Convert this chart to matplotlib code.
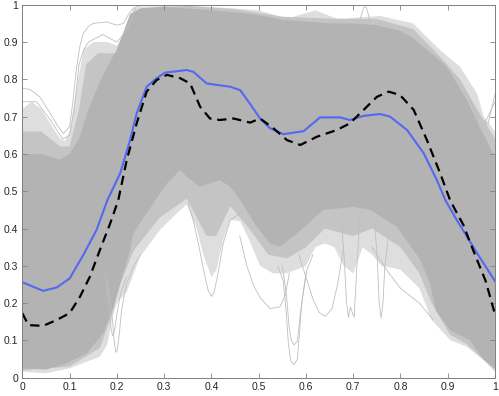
import matplotlib
matplotlib.use("Agg")
import matplotlib.pyplot as plt

# ---- data ----
# dense core band of curves
core_x  = [0, 0.04, 0.08, 0.1, 0.12, 0.14, 0.17, 0.2, 0.215, 0.228, 0.25, 0.3, 0.35, 0.4, 0.45, 0.5,
           0.55, 0.6, 0.65, 0.7, 0.75, 0.8, 0.827, 0.86, 0.898, 0.94, 0.975, 1.0]
core_hi = [0.6, 0.6, 0.585, 0.6, 0.64, 0.72, 0.81, 0.88, 0.93, 0.975, 0.99, 0.995, 0.99, 0.985, 0.98, 0.972,
           0.96, 0.955, 0.95, 0.95, 0.945, 0.93, 0.91, 0.875, 0.834, 0.745, 0.655, 0.59]
corelo_x = [0, 0.05, 0.087, 0.136, 0.171, 0.193, 0.207, 0.228, 0.235, 0.277, 0.306, 0.334, 0.348, 0.376,
            0.397, 0.418, 0.44, 0.461, 0.496, 0.524, 0.545, 0.581, 0.637, 0.701, 0.736, 0.792, 0.842,
            0.863, 0.875, 0.905, 0.947, 0.975, 1.0]
core_lo = [0.025, 0.022, 0.035, 0.065, 0.119, 0.19, 0.253, 0.342, 0.387, 0.468, 0.521, 0.557, 0.539, 0.512,
           0.521, 0.53, 0.512, 0.476, 0.405, 0.36, 0.351, 0.387, 0.45, 0.458, 0.45, 0.405, 0.316,
           0.25, 0.18, 0.128, 0.1, 0.05, 0.025]

# fairly dense fringe of curves
midhi_x = [0, 0.04, 0.08, 0.1, 0.12, 0.135, 0.16, 0.2, 0.22, 0.235, 0.25, 0.35, 0.45, 0.55, 0.65, 0.75,
           0.827, 0.884, 0.926, 0.962, 1.0]
mid_hi  = [0.66, 0.66, 0.62, 0.62, 0.72, 0.84, 0.87, 0.87, 0.9, 0.975, 0.99, 0.997, 0.988, 0.968, 0.963,
           0.962, 0.935, 0.86, 0.8, 0.72, 0.64]
midlo_x = [0, 0.1, 0.164, 0.19, 0.207, 0.235, 0.291, 0.348, 0.369, 0.39, 0.41, 0.44, 0.48, 0.52, 0.56,
           0.6, 0.64, 0.7, 0.74, 0.8, 0.84, 0.866, 0.905, 0.94, 1.0]
mid_lo  = [0.02, 0.03, 0.08, 0.17, 0.25, 0.34, 0.43, 0.48, 0.43, 0.38, 0.38, 0.46, 0.4, 0.33, 0.32,
           0.35, 0.4, 0.38, 0.4, 0.35, 0.28, 0.2, 0.115, 0.09, 0.02]

# sparse outer spread of curves
sphi_x = [0, 0.02, 0.04, 0.06, 0.08, 0.09, 0.1, 0.115, 0.13, 0.15, 0.18, 0.2, 0.215, 0.235, 0.25, 0.35,
          0.45, 0.5, 0.56, 0.62, 0.67, 0.7, 0.757, 0.827, 0.884, 0.926, 0.962, 0.976, 1.0]
sp_hi  = [0.72, 0.74, 0.72, 0.68, 0.64, 0.635, 0.66, 0.78, 0.88, 0.9, 0.9, 0.89, 0.92, 0.99, 0.995, 0.998,
          0.99, 0.985, 0.963, 0.985, 0.96, 0.965, 0.97, 0.95, 0.878, 0.834, 0.762, 0.70, 0.66]
splo_x = [0, 0.05, 0.1, 0.136, 0.164, 0.18, 0.19, 0.2, 0.221, 0.249, 0.291, 0.327, 0.348, 0.369, 0.383,
          0.4, 0.411, 0.425, 0.44, 0.461, 0.48, 0.503, 0.53, 0.56, 0.6, 0.62, 0.64, 0.66, 0.68, 0.7,
          0.72, 0.74, 0.76, 0.8, 0.84, 0.866, 0.905, 0.94, 0.976, 1.0]
sp_lo  = [0.016, 0.012, 0.025, 0.043, 0.056, 0.09, 0.16, 0.2, 0.23, 0.324, 0.396, 0.441, 0.465, 0.4, 0.33,
          0.27, 0.29, 0.37, 0.423, 0.42, 0.37, 0.3, 0.28, 0.28, 0.3, 0.35, 0.36, 0.35, 0.3, 0.28,
          0.35, 0.33, 0.3, 0.29, 0.24, 0.155, 0.101, 0.083, 0.047, 0.016]

# individual outlying curves
outliers = [
    ([0, 0.016, 0.037, 0.059, 0.076, 0.087, 0.1, 0.107, 0.115, 0.122, 0.129, 0.14, 0.15, 0.179, 0.2, 0.214,
      0.225, 0.235, 0.25],
     [0.776, 0.773, 0.753, 0.709, 0.673, 0.655, 0.673, 0.74, 0.834, 0.89, 0.923, 0.942, 0.95, 0.954, 0.945,
      0.95, 0.975, 0.991, 0.998]),
    ([0, 0.03, 0.06, 0.085, 0.1, 0.11, 0.12, 0.13, 0.14, 0.17, 0.2, 0.22, 0.24],
     [0.74, 0.74, 0.69, 0.64, 0.65, 0.72, 0.84, 0.88, 0.9, 0.92, 0.9, 0.93, 0.99]),
    ([0.175, 0.186, 0.191, 0.195, 0.198, 0.201, 0.205, 0.21, 0.216, 0.221, 0.235, 0.25],
     [0.28, 0.21, 0.15, 0.09, 0.068, 0.075, 0.115, 0.18, 0.225, 0.253, 0.298, 0.33]),
    ([0.178, 0.184, 0.188, 0.191, 0.195, 0.2, 0.207, 0.22],
     [0.25, 0.18, 0.13, 0.112, 0.125, 0.17, 0.22, 0.27]),
    ([0.35, 0.362, 0.374, 0.385, 0.393, 0.4, 0.406, 0.414, 0.425, 0.44, 0.461],
     [0.47, 0.42, 0.35, 0.28, 0.235, 0.218, 0.23, 0.28, 0.36, 0.423, 0.441]),
    ([0.46, 0.475, 0.49, 0.503, 0.524, 0.545, 0.556, 0.565],
     [0.38, 0.3, 0.245, 0.215, 0.185, 0.19, 0.22, 0.28]),
    ([0.54, 0.552, 0.558, 0.563, 0.568, 0.575, 0.582, 0.587, 0.591, 0.602, 0.615],
     [0.3, 0.26, 0.18, 0.09, 0.045, 0.035, 0.05, 0.13, 0.2, 0.289, 0.33]),
    ([0.55, 0.559, 0.564, 0.569, 0.575, 0.582, 0.588, 0.6],
     [0.3, 0.22, 0.14, 0.1, 0.088, 0.098, 0.17, 0.28]),
    ([0.585, 0.6, 0.615, 0.628, 0.641, 0.655, 0.667, 0.68],
     [0.33, 0.27, 0.21, 0.175, 0.164, 0.185, 0.25, 0.35]),
    ([0.675, 0.681, 0.686, 0.69, 0.694, 0.698, 0.702, 0.707, 0.715],
     [0.42, 0.32, 0.2, 0.162, 0.19, 0.175, 0.162, 0.28, 0.45]),
    ([0.745, 0.751, 0.755, 0.759, 0.763, 0.767, 0.775],
     [0.42, 0.32, 0.2, 0.16, 0.2, 0.3, 0.38]),
    ([0.74, 0.77, 0.8, 0.84, 0.869],
     [0.35, 0.29, 0.24, 0.2, 0.155]),
    ([0.712, 0.718, 0.722, 0.727, 0.732, 0.736],
     [0.95, 0.975, 0.993, 0.995, 0.975, 0.95]),
    ([0.94, 0.965, 0.985, 1.0], [0.76, 0.7, 0.68, 0.76]),
    ([0.95, 0.97, 0.985, 1.0], [0.74, 0.66, 0.7, 0.74]),
]

# mean curve (blue)
mean_x = [0, 0.044, 0.073, 0.1, 0.129, 0.157, 0.18, 0.207, 0.228, 0.242, 0.263, 0.284, 0.302, 0.348,
          0.362, 0.39, 0.44, 0.461, 0.482, 0.503, 0.524, 0.552, 0.595, 0.63, 0.672, 0.693, 0.722,
          0.757, 0.778, 0.814, 0.849, 0.877, 0.895, 0.919, 0.962, 1.0]
mean_y = [0.256, 0.233, 0.242, 0.266, 0.329, 0.396, 0.476, 0.548, 0.637, 0.709, 0.78, 0.803, 0.818, 0.825,
          0.82, 0.789, 0.78, 0.771, 0.734, 0.695, 0.669, 0.653, 0.661, 0.698, 0.698, 0.691, 0.702,
          0.707, 0.7, 0.664, 0.602, 0.53, 0.476, 0.423, 0.334, 0.259]

# second summary curve (black dashed)
dash_x = [0, 0.013, 0.044, 0.073, 0.1, 0.122, 0.143, 0.164, 0.186, 0.203, 0.221, 0.242, 0.263, 0.284,
          0.306, 0.334, 0.355, 0.376, 0.397, 0.418, 0.447, 0.482, 0.503, 0.531, 0.56, 0.588, 0.623,
          0.665, 0.693, 0.722, 0.75, 0.775, 0.799, 0.828, 0.856, 0.884, 0.905, 0.92, 0.933, 0.945,
          0.962, 0.98, 1.0]
dash_y = [0.173, 0.141, 0.139, 0.155, 0.173, 0.217, 0.271, 0.342, 0.414, 0.476, 0.584, 0.682, 0.767, 0.798,
          0.812, 0.803, 0.789, 0.727, 0.695, 0.691, 0.695, 0.684, 0.695, 0.669, 0.637, 0.624, 0.646,
          0.664, 0.682, 0.718, 0.753, 0.767, 0.758, 0.718, 0.637, 0.548, 0.476, 0.44, 0.41, 0.37,
          0.316, 0.26, 0.17]

ticks = [0, 0.1, 0.2, 0.3, 0.4, 0.5, 0.6, 0.7, 0.8, 0.9, 1]
tick_labels = ["0", "0.1", "0.2", "0.3", "0.4", "0.5", "0.6", "0.7", "0.8", "0.9", "1"]


def band(ax, xh, yh, xl, yl, color):
    # one closed polygon: upper edge left->right, lower edge right->left
    ax.fill(list(xh) + list(xl)[::-1], list(yh) + list(yl)[::-1], color=color, lw=0)


# ---- drawing ----
plt.rcParams['font.family'] = ['Liberation Sans', 'DejaVu Sans']
fig = plt.figure(figsize=(4.99, 3.96), dpi=100)
ax = fig.add_axes([0.0447, 0.0462, 0.9473, 0.9418])

band(ax, sphi_x, sp_hi, splo_x, sp_lo, '#dedede')
for ox, oy in outliers:
    ax.plot(ox, oy, color='#bfbfbf', lw=0.6)
band(ax, midhi_x, mid_hi, midlo_x, mid_lo, '#c4c4c4')
band(ax, core_x, core_hi, corelo_x, core_lo, '#b3b3b3')

ax.plot(mean_x, mean_y, color='#5468f0', lw=1.5)
ax.plot(dash_x, dash_y, color='black', lw=1.6, dashes=(4.2, 2.6))

ax.set_xlim(0, 1)
ax.set_ylim(0, 1)
ax.set_xticks(ticks)
ax.set_xticklabels(tick_labels)
ax.set_yticks(ticks)
ax.set_yticklabels(tick_labels)
ax.tick_params(direction='in', length=3.5, width=0.6, colors='#808080', labelcolor='#262626',
               labelsize=7.5, top=True, right=True, pad=3)
for s in ax.spines.values():
    s.set_color('#808080')
    s.set_linewidth(0.7)

fig.savefig('out.png', dpi=100)
